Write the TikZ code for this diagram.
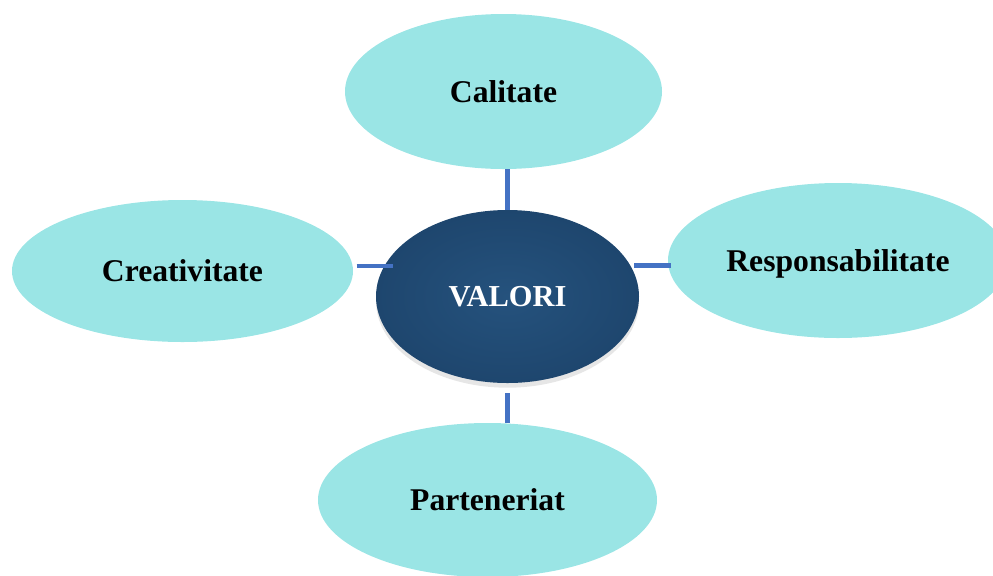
\documentclass[tikz,border=0pt]{standalone}
\usepackage{fontspec}
\setmainfont{Liberation Serif}
\usetikzlibrary{shapes.geometric,shadows}
\definecolor{petal}{RGB}{154,229,229}
\definecolor{core}{RGB}{37,82,125}
\definecolor{coredark}{RGB}{30,70,110}
\definecolor{link}{RGB}{68,114,196}
\begin{document}
\begin{tikzpicture}[
    petal/.style = {ellipse, fill=petal, inner sep=0pt, text height=18pt, text depth=0pt,
                    font=\fontsize{27}{30}\selectfont\bfseries},
    core/.style  = {ellipse, inner sep=0pt, text=white, text height=17pt, text depth=0pt,
                    inner color=core, outer color=coredark,
                    drop shadow={opacity=0.2, shadow xshift=0pt, shadow yshift=-4pt},
                    font=\fontsize{26}{29}\selectfont\bfseries},
    joint/.style = {link, line width=4pt}
  ]
    \useasboundingbox (0,0) rectangle (29.79,-17.25);
    \node[petal, minimum width=9.51cm, minimum height=4.65cm] (calitate) at (15.105,-2.745) {Calitate};
    \node[petal, minimum width=10.23cm, minimum height=4.26cm] (creativitate) at (5.475,-8.13) {Creativitate};
    \node[petal, minimum width=10.2cm, minimum height=4.65cm] (responsabilitate) at (25.14,-7.815) {Responsabilitate};
    \node[petal, minimum width=10.17cm, minimum height=4.62cm] (parteneriat) at (14.625,-15.0) {Parteneriat};
    \node[core, minimum width=7.89cm, minimum height=5.19cm] (valori) at (15.225,-8.895) {VALORI};
    \draw[joint] (valori.north) -- (valori.north |- calitate.south);
    \draw[joint] (valori.south) ++(0,-0.3) -- (valori.south |- parteneriat.north);
    \draw[joint] (creativitate.east) ++(0.1,0.15) -- ++(1.1,0) coordinate (leftend);
    \draw[joint] (responsabilitate.west) ++(0.1,-0.15) -- ++(-1.1,0) coordinate (rightend);
\end{tikzpicture}
\end{document}
